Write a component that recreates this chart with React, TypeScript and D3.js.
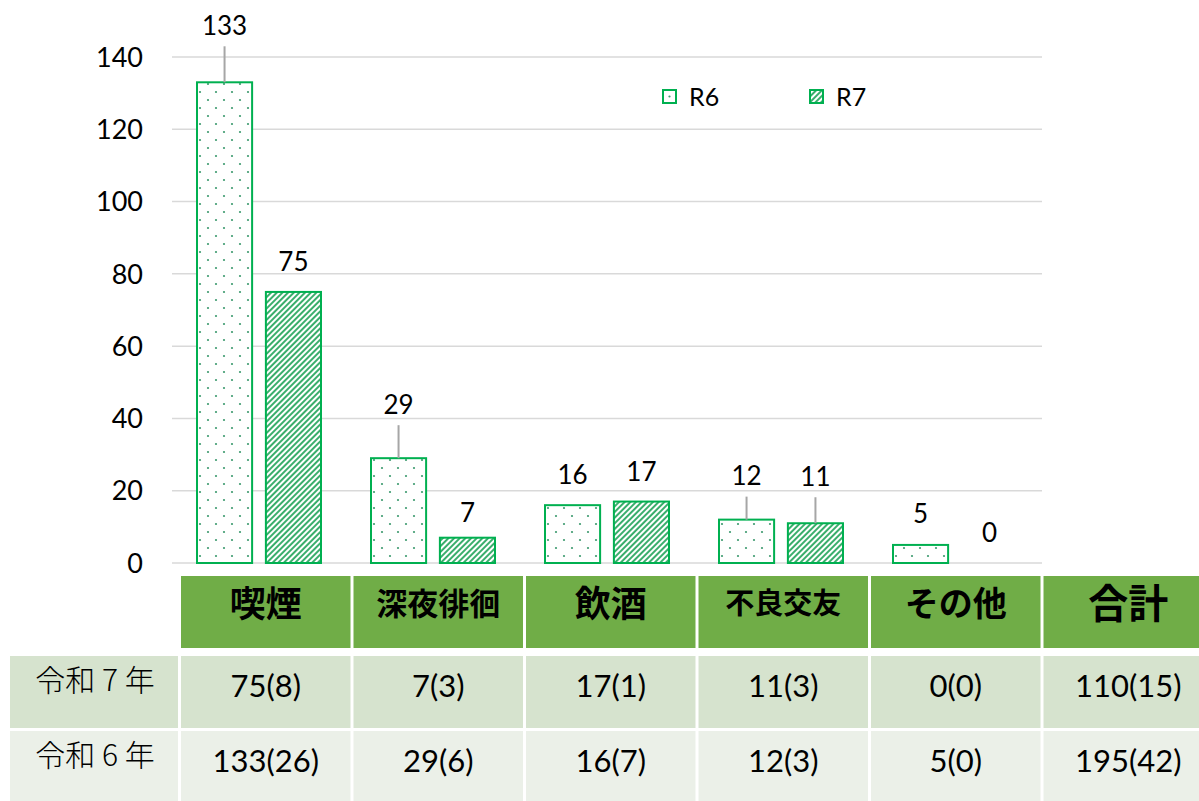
import * as d3 from "d3";

// chart data
const categories = ["喫煙", "深夜徘徊", "飲酒", "不良交友", "その他"];
const seriesNames = ["R6", "R7"];
const r6Values = [133, 29, 16, 12, 5];
const r7Values = [75, 7, 17, 11, 0];
const yTicks = [0, 20, 40, 60, 80, 100, 120, 140];

// table underneath
const tableHeaders = ["喫煙", "深夜徘徊", "飲酒", "不良交友", "その他", "合計"];
const rowLabels = ["令和 7 年", "令和 6 年"];
const r7Row = ["75(8)", "7(3)", "17(1)", "11(3)", "0(0)", "110(15)"];
const r6Row = ["133(26)", "29(6)", "16(7)", "12(3)", "5(0)", "195(42)"];

// label layout (px above bar top), kept apart from the data
const labelGapR6 = [57, 54, 31, 44, 31];
const labelGapR7 = [30, 25, 30, 47, 30];
const headerSizes = [36, 31, 36, 29, 34, 40];

const W = 1199;
const H = 801;
const GREEN = "#00B050";
const latin = "Lato, 'Noto Sans', sans-serif";
const cjk = "'Noto Sans CJK JP', 'Noto Sans', sans-serif";

export default function App() {
  const plot = { left: 172, right: 1042, top: 57, bottom: 563 };

  const y = d3.scaleLinear().domain([0, 140]).range([plot.bottom, plot.top]);
  const x0 = d3
    .scaleBand<string>()
    .domain(categories)
    .range([plot.left, plot.right])
    .paddingInner(0)
    .paddingOuter(0);
  const x1 = d3
    .scaleBand<string>()
    .domain(seriesNames)
    .range([25, x0.bandwidth() - 25])
    .paddingInner(0.2);

  const series = [
    { name: "R6", values: r6Values, gaps: labelGapR6, fill: "url(#dots)" },
    { name: "R7", values: r7Values, gaps: labelGapR7, fill: "url(#stripes)" },
  ];

  // table geometry
  const colX = d3
    .scaleBand<string>()
    .domain(tableHeaders)
    .range([181, 181 + 172 * 6])
    .paddingInner(3 / 172)
    .paddingOuter(0);
  const rows = [
    { label: rowLabels[0], cells: r7Row, bg: "#D6E3CE", top: 656, bottom: 728 },
    { label: rowLabels[1], cells: r6Row, bg: "#EBF0E8", top: 731, bottom: 805 },
  ];

  return (
    <div style={{ position: "absolute", left: 0, top: 0 }}>
      <svg width={W} height={H} style={{ display: "block", background: "#fff" }}>
        <defs>
          <pattern id="dots" width="16" height="16" patternUnits="userSpaceOnUse">
            <rect width="16" height="16" fill="#fff" />
            <circle cx="4" cy="4" r="1.1" fill="#3C9A6E" />
            <circle cx="12" cy="12" r="1.1" fill="#3C9A6E" />
          </pattern>
          <pattern
            id="stripes"
            width="4"
            height="4"
            patternUnits="userSpaceOnUse"
            patternTransform="rotate(45)"
          >
            <rect width="4" height="4" fill="#fff" />
            <rect width="2" height="4" fill="#3AAE6C" />
          </pattern>
        </defs>

        {/* gridlines */}
        <g>
          {yTicks.map((t) => (
            <line
              key={t}
              x1={plot.left}
              x2={plot.right}
              y1={y(t)}
              y2={y(t)}
              stroke="#D9D9D9"
              strokeWidth={1.5}
            />
          ))}
        </g>

        {/* y tick labels */}
        <g fontFamily={latin} fontSize={27} fill="#000" textAnchor="end">
          {yTicks.map((t) => (
            <text key={t} x={143} y={y(t)} dy="0.36em">
              {t}
            </text>
          ))}
        </g>

        {/* bars */}
        {categories.map((c, i) => (
          <g key={c} transform={`translate(${x0(c)},0)`}>
            {series.map((s) => {
              const v = s.values[i];
              const bx = x1(s.name)!;
              const bw = x1.bandwidth();
              const top = y(v);
              const ly = top - s.gaps[i];
              return (
                <g key={s.name}>
                  {v > 0 && (
                    <rect
                      x={bx}
                      y={top}
                      width={bw}
                      height={y(0) - top}
                      fill={s.fill}
                      stroke={GREEN}
                      strokeWidth={2}
                    />
                  )}
                  {s.gaps[i] > 40 && (
                    <line
                      x1={bx + bw / 2}
                      x2={bx + bw / 2}
                      y1={ly + 21}
                      y2={top}
                      stroke="#A6A6A6"
                      strokeWidth={2}
                    />
                  )}
                  <text
                    x={bx + bw / 2}
                    y={ly}
                    dy="0.36em"
                    textAnchor="middle"
                    fontFamily={latin}
                    fontSize={26}
                    fill="#000"
                  >
                    {v}
                  </text>
                </g>
              );
            })}
          </g>
        ))}

        {/* legend */}
        <g fontFamily={latin} fontSize={25} fill="#000">
          {seriesNames.map((n, i) => {
            const lx = 663 + i * 147;
            return (
              <g key={n}>
                <rect
                  x={lx}
                  y={90}
                  width={13}
                  height={13}
                  fill={i === 0 ? "#fff" : "url(#stripes)"}
                  stroke={GREEN}
                  strokeWidth={2}
                />
                {i === 0 && <circle cx={lx + 6.5} cy={96.5} r={1.1} fill="#3C9A6E" />}
                <text x={lx + 26} y={97} dy="0.36em">
                  {n}
                </text>
              </g>
            );
          })}
        </g>

        {/* table header */}
        <g>
          {tableHeaders.map((h, i) => (
            <g key={h}>
              <rect x={colX(h)} y={576} width={colX.bandwidth()} height={72} fill="#70AD47" />
              <text
                x={colX(h)! + colX.bandwidth() / 2}
                y={604}
                dy="0.36em"
                textAnchor="middle"
                fontFamily={cjk}
                fontWeight={700}
                fontSize={headerSizes[i]}
                fill="#000"
              >
                {h}
              </text>
            </g>
          ))}
        </g>

        {/* table body */}
        {rows.map((r) => (
          <g key={r.label}>
            <rect x={10} y={r.top} width={168} height={r.bottom - r.top} fill={r.bg} />
            <text
              x={95}
              y={r.top + 24}
              dy="0.36em"
              textAnchor="middle"
              fontFamily={cjk}
              fontWeight={300}
              fontSize={30}
              fill="#000"
            >
              {r.label}
            </text>
            {tableHeaders.map((h, j) => (
              <g key={h}>
                <rect
                  x={colX(h)}
                  y={r.top}
                  width={colX.bandwidth()}
                  height={r.bottom - r.top}
                  fill={r.bg}
                />
                <text
                  x={colX(h)! + colX.bandwidth() / 2}
                  y={r.top + 30}
                  dy="0.36em"
                  textAnchor="middle"
                  fontFamily={latin}
                  fontSize={31}
                  fill="#000"
                >
                  {r.cells[j]}
                </text>
              </g>
            ))}
          </g>
        ))}
      </svg>
    </div>
  );
}
